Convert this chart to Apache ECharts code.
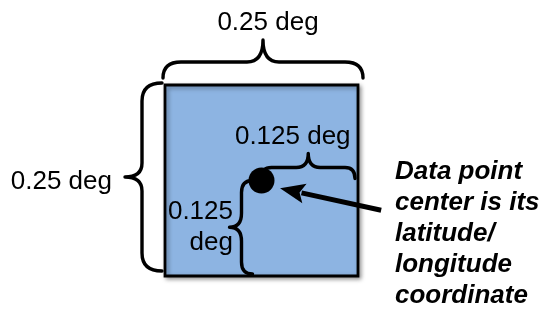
<!DOCTYPE html>
<html>
<head>
<meta charset="utf-8">
<script src="https://cdn.jsdelivr.net/npm/echarts@6/dist/echarts.min.js"></script>
<style>
html,body{margin:0;padding:0;background:#fff;}
#chart{width:547px;height:310px;}
</style>
</head>
<body>
<div id="chart"></div>
<script>
// ---- data (degrees) ----
const cellExtent = [0, 0.25];                 // grid cell spans 0..0.25 deg in lon and lat
const cellRect = [[0, 0, 0.25, 0.25]];          // x0, y0, x1, y1
const pointCenter = [[0.125, 0.125]];           // data point at cell center
const braceSpans = [                            // x1, y1, x2, y2
  [0, 0.25, 0.25, 0.25],       // top: full width
  [0, 0, 0, 0.25],             // left: full height
  [0.125, 0.125, 0.25, 0.125], // center -> right edge
  [0.125, 0, 0.125, 0.125]     // bottom edge -> center
];
const labelAnchors = [[0.125, 0.25], [0, 0.125], [0.1875, 0.125], [0.125, 0.0625], [0.25, 0.125]];
const labelTexts = ['0.25 deg', '0.25 deg', '0.125 deg', '0.125\ndeg',
  'Data point\ncenter is its\nlatitude/\nlongitude\ncoordinate'];
const arrowPath = [[0.28, 0.086], [0.149, 0.115]];  // tail, tip

// ---- styles ----
const FONT = "'Liberation Sans', Arial, sans-serif";
const braceStyle = [
  {e: 7, l: 23, t: 45, r: 18, r2: 16, s0: 2, s1: 5},
  {e: 3, l: 23, t: 40, r: 18, r2: 14, s0: -5, s1: 2},
  {e: 2, l: 13, t: 27, r: 10, r2: 12, s0: 0, s1: -3},
  {e: 9, l: 20, t: 32, r: 12, r2: 14, s0: -2, s1: 0}
];
const labelStyle = [
  {dx: 6.5, dy: -62, align: 'center'},
  {dx: -53, dy: 1.5, align: 'right'},
  {dx: -17, dy: -43.5, align: 'center'},
  {dx: -28.5, dy: -1, align: 'right'},
  {dx: 37, dy: 53, align: 'left', bold: true}
];

function bracePath(A, B, st) {
  let dx = B[0] - A[0], dy = B[1] - A[1];
  const L0 = Math.hypot(dx, dy);
  const ux = dx / L0, uy = dy / L0;
  const a = [A[0] - ux * st.s0, A[1] - uy * st.s0];
  const b = [B[0] + ux * st.s1, B[1] + uy * st.s1];
  const L = Math.hypot(b[0] - a[0], b[1] - a[1]);
  const nx = uy, ny = -ux;
  const m = L / 2;
  const P = (u, v) => [(a[0] + ux * u + nx * v).toFixed(2), (a[1] + uy * u + ny * v).toFixed(2)].join(' ');
  return 'M' + P(0, st.e) +
    ' Q' + P(0, st.l) + ' ' + P(st.r, st.l) +
    ' L' + P(m - st.r2, st.l) +
    ' Q' + P(m, st.l) + ' ' + P(m, st.t) +
    ' Q' + P(m, st.l) + ' ' + P(m + st.r2, st.l) +
    ' L' + P(L - st.r, st.l) +
    ' Q' + P(L, st.l) + ' ' + P(L, st.e);
}

const chart = echarts.init(document.getElementById('chart'));
chart.setOption({
  animation: false,
  backgroundColor: '#ffffff',
  grid: {left: 165, top: 85, width: 193, height: 191},
  xAxis: {type: 'value', min: cellExtent[0], max: cellExtent[1], show: false},
  yAxis: {type: 'value', min: cellExtent[0], max: cellExtent[1], show: false},
  series: [
    {
      type: 'custom', clip: false, z: 1,
      data: cellRect,
      renderItem: function (params, api) {
        const p0 = api.coord([api.value(0), api.value(3)]);
        const p1 = api.coord([api.value(2), api.value(1)]);
        return {
          type: 'rect',
          shape: {x: p0[0], y: p0[1], width: p1[0] - p0[0], height: p1[1] - p0[1]},
          style: {fill: '#8DB4E2', stroke: '#000', lineWidth: 2.8,
            shadowBlur: 4, shadowOffsetX: 2, shadowOffsetY: 2, shadowColor: 'rgba(0,0,0,0.35)'}
        };
      }
    },
    {
      type: 'custom', clip: false, z: 3,
      data: braceSpans,
      renderItem: function (params, api) {
        const A = api.coord([api.value(0), api.value(1)]);
        const B = api.coord([api.value(2), api.value(3)]);
        return {
          type: 'path',
          shape: {pathData: bracePath(A, B, braceStyle[params.dataIndex])},
          style: {fill: null, stroke: '#000', lineWidth: 3.4, lineCap: 'round', lineJoin: 'round'}
        };
      }
    },
    {
      type: 'scatter', z: 4,
      data: pointCenter,
      symbol: 'circle', symbolSize: 26,
      itemStyle: {color: '#000', opacity: 1}
    },
    {
      type: 'custom', clip: false, z: 5,
      data: [arrowPath[0].concat(arrowPath[1])],
      renderItem: function (params, api) {
        const T = api.coord([api.value(0), api.value(1)]);
        const H = api.coord([api.value(2), api.value(3)]);
        const dx = H[0] - T[0], dy = H[1] - T[1];
        const len = Math.hypot(dx, dy);
        const ux = dx / len, uy = dy / len;
        const hl = 25, hw = 10;
        const base = [H[0] - ux * hl, H[1] - uy * hl];
        return {
          type: 'group',
          children: [
            {type: 'line', shape: {x1: T[0], y1: T[1], x2: base[0] + ux * 3, y2: base[1] + uy * 3},
              style: {stroke: '#000', lineWidth: 5}},
            {type: 'polygon', shape: {points: [H,
              [base[0] - uy * hw, base[1] + ux * hw],
              [base[0] + ux * 5, base[1] + uy * 5],
              [base[0] + uy * hw, base[1] - ux * hw]]},
              style: {fill: '#000'}}
          ]
        };
      }
    },
    {
      type: 'custom', clip: false, z: 6,
      data: labelAnchors.map((p, i) => [p[0], p[1], i]),
      renderItem: function (params, api) {
        const i = api.value(2);
        const st = labelStyle[i];
        const p = api.coord([api.value(0), api.value(1)]);
        return {
          type: 'text',
          style: {
            x: p[0] + st.dx, y: p[1] + st.dy,
            text: labelTexts[i],
            fill: '#000',
            fontFamily: FONT, fontSize: 26,
            fontWeight: st.bold ? 'bold' : 'normal',
            fontStyle: st.bold ? 'italic' : 'normal',
            align: st.align, verticalAlign: 'middle', lineHeight: 31
          }
        };
      }
    }
  ]
});
</script>
</body>
</html>
